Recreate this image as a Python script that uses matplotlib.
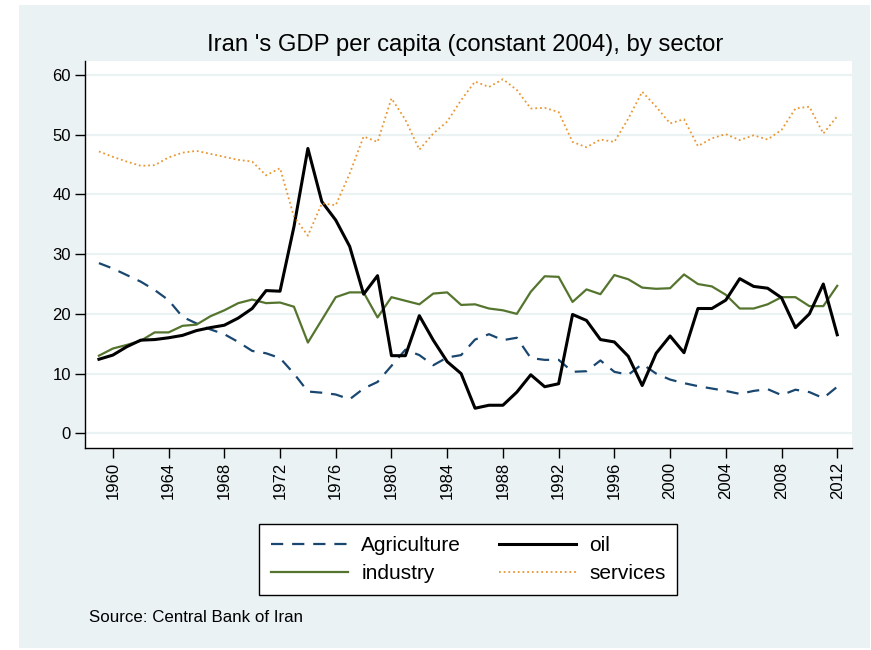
import matplotlib
matplotlib.use("Agg")
import matplotlib.pyplot as plt
from matplotlib.patches import Rectangle

plt.rcParams['font.family'] = ['Liberation Sans', 'DejaVu Sans']

years = list(range(1959, 2013))

agriculture = [28.5, 27.6, 26.5, 25.4, 24.0, 22.3, 19.5, 18.4, 17.4, 16.6,
               15.3, 13.8, 13.4, 12.6, 10.0, 7.0, 6.8, 6.5, 5.7, 7.5,
               8.6, 11.3, 14.0, 13.1, 11.4, 12.7, 13.1, 15.7, 16.6, 15.6,
               16.0, 12.6, 12.3, 12.3, 10.3, 10.4, 12.2, 10.3, 9.8, 11.6,
               10.0, 9.0, 8.4, 7.9, 7.5, 7.1, 6.6, 7.1, 7.4, 6.4,
               7.3, 6.9, 5.9, 7.8]

oil = [12.4, 13.1, 14.5, 15.6, 15.7, 16.0, 16.4, 17.2, 17.7, 18.1,
       19.3, 20.9, 23.9, 23.8, 34.6, 47.7, 38.8, 35.7, 31.3, 23.3,
       26.4, 13.0, 13.0, 19.7, 15.6, 12.0, 10.0, 4.2, 4.7, 4.7,
       6.9, 9.8, 7.8, 8.3, 19.9, 18.9, 15.7, 15.3, 12.9, 8.0,
       13.4, 16.3, 13.5, 20.9, 20.9, 22.3, 25.9, 24.6, 24.3, 22.7,
       17.7, 20.0, 25.0, 16.5]

industry = [13.0, 14.2, 14.8, 15.5, 16.9, 16.9, 18.0, 18.2, 19.6, 20.6,
            21.8, 22.4, 21.8, 21.9, 21.2, 15.2, 19.0, 22.8, 23.6, 23.6,
            19.4, 22.8, 22.2, 21.6, 23.4, 23.6, 21.5, 21.6, 20.9, 20.6,
            20.0, 23.7, 26.3, 26.2, 22.0, 24.1, 23.3, 26.5, 25.8, 24.4,
            24.2, 24.3, 26.6, 25.0, 24.6, 23.2, 20.9, 20.9, 21.6, 22.8,
            22.8, 21.3, 21.3, 24.7]

services = [47.2, 46.3, 45.5, 44.8, 44.9, 46.2, 47.0, 47.3, 46.8, 46.3,
            45.8, 45.5, 43.2, 44.4, 36.3, 33.1, 38.5, 38.2, 43.5, 49.7,
            48.8, 56.1, 52.5, 47.5, 50.2, 52.2, 55.8, 58.9, 58.0, 59.3,
            57.5, 54.4, 54.5, 53.8, 48.8, 47.9, 49.2, 48.8, 52.7, 57.2,
            54.7, 51.9, 52.6, 48.1, 49.4, 50.1, 49.1, 49.9, 49.2, 50.8,
            54.4, 54.7, 50.2, 53.1]

xticks = list(range(1960, 2013, 4))
yticks = [0, 10, 20, 30, 40, 50, 60]

bg = '#EAF2F3'
W, H = 871, 650

fig = plt.figure(figsize=(8.71, 6.5), dpi=100, facecolor='white')
fig.patches.append(Rectangle((19 / W, 1 - 648 / H), (870 - 19) / W, (648 - 5) / H,
                             transform=fig.transFigure, facecolor=bg,
                             edgecolor='none', zorder=-10))

ax = fig.add_axes([85 / W, 1 - 448 / H, (852 - 85) / W, (448 - 60.7) / H])
ax.set_facecolor('white')

ax.plot(years, agriculture, color='#1A476F', lw=1.6, linestyle=(0, (5.5, 4)),
        label='Agriculture')
ax.plot(years, industry, color='#55752F', lw=1.6, label='industry')
ax.plot(years, oil, color='black', lw=2.2, label='oil')
ax.plot(years, services, color='#E37E00', lw=1.3, linestyle=(0, (1, 1.6)),
        alpha=0.8, label='services')

ax.set_xlim(1958.0, 2013.06)
ax.set_ylim(-2.46, 62.4)
ax.set_xticks(xticks)
ax.set_yticks(yticks)
ax.set_xticklabels([str(y) for y in xticks], rotation=90, fontsize=12)
ax.set_yticklabels([str(v) for v in yticks], fontsize=12)
ax.tick_params(direction='out', length=7, width=1, color='black', pad=3)
ax.yaxis.grid(True, color=bg, lw=1.6)
ax.set_axisbelow(True)
for s in ['top', 'right']:
    ax.spines[s].set_visible(False)
for s in ['left', 'bottom']:
    ax.spines[s].set_color('black')
    ax.spines[s].set_linewidth(1)

fig.text(465 / W, 1 - 45 / H, "Iran 's GDP per capita (constant 2004), by sector",
         ha='center', va='center', fontsize=17.2)

handles, labels = ax.get_legend_handles_labels()
leg = fig.legend(handles, labels, ncol=2, loc='center',
                 bbox_to_anchor=(468 / W, 1 - 559.5 / H), fontsize=15,
                 frameon=True, fancybox=False, edgecolor='black',
                 facecolor='white', framealpha=1,
                 handlelength=3.7, handletextpad=0.65, columnspacing=1.8,
                 labelspacing=0.45, borderpad=0.55)
leg.get_frame().set_linewidth(1)

fig.text(89 / W, 1 - 617 / H, 'Source: Central Bank of Iran', ha='left',
         va='center', fontsize=12.2)

fig.savefig('out.png', dpi=100, facecolor='white')
